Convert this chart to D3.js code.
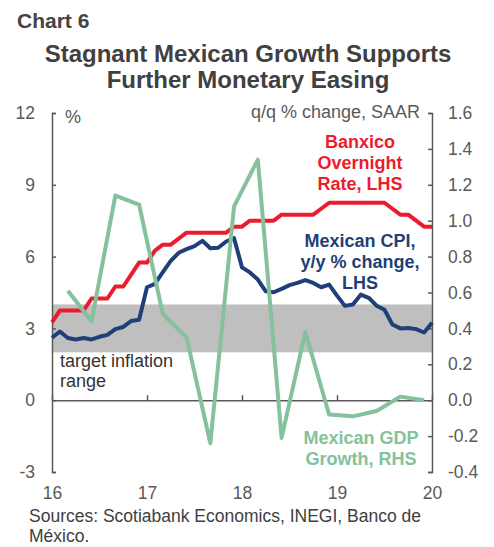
<!DOCTYPE html>
<html>
<head>
<meta charset="utf-8">
<script src="https://cdn.jsdelivr.net/npm/d3@7"></script>
<style>
body { margin: 0; background: #fff; }
text { font-family: "Liberation Sans", Arial, sans-serif; }
</style>
</head>
<body>
<svg id="chart" width="494" height="547"></svg>
<script>
// data, monthly Jan 2016 .. Jan 2020
const yearLabels = ["16", "17", "18", "19", "20"];
const banxicoRate = [
	3.25, 3.75, 3.75, 3.75, 3.75, 4.25, 4.25, 4.25, 4.75, 4.75, 5.25, 5.75,
	5.75, 6.25, 6.50, 6.50, 6.75, 7.00, 7.00, 7.00, 7.00, 7.00, 7.00, 7.25,
	7.25, 7.50, 7.50, 7.50, 7.50, 7.75, 7.75, 7.75, 7.75, 7.75, 8.00, 8.25,
	8.25, 8.25, 8.25, 8.25, 8.25, 8.25, 8.25, 8.00, 7.75, 7.75, 7.50, 7.25,
	7.25
];
const cpiYoY = [
	2.61, 2.87, 2.60, 2.54, 2.60, 2.54, 2.65, 2.73, 2.97, 3.06, 3.31, 3.36,
	4.72, 4.86, 5.35, 5.82, 6.16, 6.31, 6.44, 6.66, 6.35, 6.37, 6.63, 6.77,
	5.55, 5.34, 5.04, 4.55, 4.51, 4.65, 4.81, 4.90, 5.02, 4.90, 4.72, 4.83,
	4.37, 3.94, 4.00, 4.41, 4.28, 3.95, 3.78, 3.16, 3.00, 3.02, 2.97, 2.83,
	3.24
];
// quarterly, Q1 2016 .. Q4 2019 (plotted at the last month of the quarter)
const gdpQoQ = [
	0.61, 0.44, 1.14, 1.09,
	0.48, 0.35, -0.24, 1.08,
	1.34, -0.21, 0.38, -0.08,
	-0.09, -0.06, 0.02, 0.00
];
const targetBand = [2, 4];
const leftTicks = [-3, 0, 3, 6, 9, 12];
const rightTicks = [-0.4, -0.2, 0, 0.2, 0.4, 0.6, 0.8, 1.0, 1.2, 1.4, 1.6];

const red = "#ec1c2e", navy = "#1f3f78", green = "#84c19c";
const axisColor = "#595959";

const svg = d3.select("#chart");

// scales
const x = d3.scaleLinear().domain([0, 48]).range([52, 432]);
const yLeft = d3.scaleLinear().domain([-3, 12]).range([472, 113]);
const yRight = d3.scaleLinear().domain([-0.4, 1.6]).range([472, 113]);

// titles
svg.append("text")
	.attr("x", 17).attr("y", 28)
	.style("font-family", "'Liberation Sans Narrow', 'Arial Narrow', sans-serif")
	.style("font-weight", "bold").style("font-size", "21px")
	.attr("fill", "#444")
	.text("Chart 6");

svg.append("text")
	.attr("x", 248).attr("y", 62)
	.attr("text-anchor", "middle")
	.style("font-weight", "bold").style("font-size", "24px")
	.attr("fill", "#404040")
	.text("Stagnant Mexican Growth Supports");
svg.append("text")
	.attr("x", 248).attr("y", 88)
	.attr("text-anchor", "middle")
	.style("font-weight", "bold").style("font-size", "24px")
	.attr("fill", "#404040")
	.text("Further Monetary Easing");

// target band
svg.append("rect")
	.attr("x", x(0))
	.attr("y", yLeft(targetBand[1]))
	.attr("width", x(48) - x(0))
	.attr("height", yLeft(targetBand[0]) - yLeft(targetBand[1]))
	.attr("fill", "#bfbfbf");

// axes
function styleAxis(g) {
	g.selectAll("path, line").attr("stroke", axisColor).attr("stroke-width", 1.5);
	g.selectAll("text").attr("fill", axisColor)
		.style("font-size", "17.5px")
		.style("font-family", "'Liberation Sans', Arial, sans-serif");
}

svg.append("g")
	.attr("transform", "translate(" + x(0) + ",0)")
	.call(d3.axisLeft(yLeft).tickValues(leftTicks)
		.tickFormat(d => String(d))
		.tickSizeInner(-4).tickSizeOuter(-4).tickPadding(17))
	.call(styleAxis);

svg.append("g")
	.attr("transform", "translate(" + x(48) + ",0)")
	.call(d3.axisRight(yRight).tickValues(rightTicks)
		.tickFormat(d => d.toFixed(1))
		.tickSizeInner(-4).tickSizeOuter(-4).tickPadding(16))
	.call(styleAxis);

// zero line with year ticks
svg.append("g")
	.attr("transform", "translate(0," + yLeft(0) + ")")
	.call(d3.axisBottom(x).tickValues([0, 12, 24, 36, 48])
		.tickFormat("").tickSizeInner(-5).tickSizeOuter(0))
	.call(styleAxis);

// year labels below the plot
svg.append("g")
	.attr("transform", "translate(0," + yLeft(-3) + ")")
	.call(d3.axisBottom(x).tickValues([0, 12, 24, 36, 48])
		.tickFormat((d, i) => yearLabels[i]).tickSize(0).tickPadding(15))
	.call(styleAxis)
	.call(g => g.select(".domain").remove());

// unit labels
svg.append("text")
	.attr("x", 65).attr("y", 123)
	.style("font-size", "18px").attr("fill", axisColor)
	.text("%");
svg.append("text")
	.attr("x", 420).attr("y", 118)
	.attr("text-anchor", "end")
	.style("font-size", "18px").attr("fill", axisColor)
	.text("q/q % change, SAAR");

// lines
const lineLeft = d3.line().x((d, i) => x(i)).y(d => yLeft(d));
const lineGdp = d3.line().x((d, i) => x(2 + 3 * i)).y(d => yRight(d));

svg.append("path").datum(banxicoRate)
	.attr("d", lineLeft)
	.attr("fill", "none").attr("stroke", red).attr("stroke-width", 4)
	.attr("stroke-linejoin", "round");

svg.append("path").datum(cpiYoY)
	.attr("d", lineLeft)
	.attr("fill", "none").attr("stroke", navy).attr("stroke-width", 4)
	.attr("stroke-linejoin", "round");

svg.append("path").datum(gdpQoQ)
	.attr("d", lineGdp)
	.attr("fill", "none").attr("stroke", green).attr("stroke-width", 4)
	.attr("stroke-linejoin", "round");

// series labels
function label(lines, cx, y0, color, bold) {
	const t = svg.append("text")
		.attr("text-anchor", "middle")
		.style("font-size", "18px")
		.style("font-weight", bold ? "bold" : "normal")
		.attr("fill", color);
	lines.forEach((s, i) => {
		t.append("tspan").attr("x", cx).attr("y", y0 + i * 21).text(s);
	});
}
label(["Banxico", "Overnight", "Rate, LHS"], 360, 148, red, true);
label(["Mexican CPI,", "y/y % change,", "LHS"], 360, 247, navy, true);
label(["Mexican GDP", "Growth, RHS"], 361, 444, green, true);

svg.append("text")
	.style("font-size", "18px").attr("fill", "#333")
	.selectAll("tspan")
	.data(["target inflation", "range"])
	.join("tspan")
	.attr("x", 60)
	.attr("y", (d, i) => 367 + i * 20)
	.text(d => d);

// source note
svg.append("text")
	.style("font-size", "17.5px").attr("fill", "#404040")
	.selectAll("tspan")
	.data(["Sources: Scotiabank Economics, INEGI, Banco de", "México."])
	.join("tspan")
	.attr("x", 29)
	.attr("y", (d, i) => 522 + i * 20)
	.text(d => d);
</script>
</body>
</html>
